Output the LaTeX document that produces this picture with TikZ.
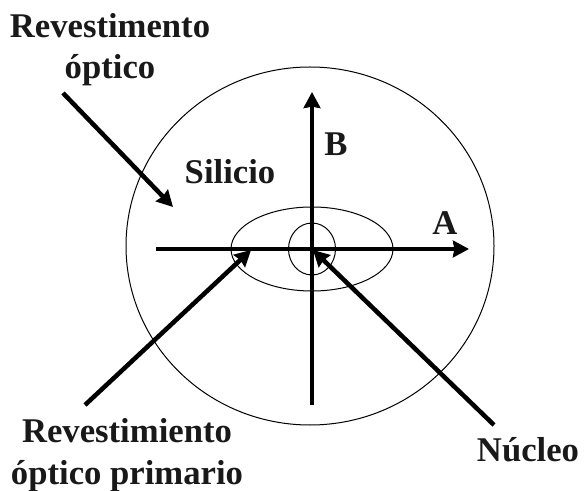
\documentclass[tikz,border=0pt]{standalone}
\usepackage{fontspec}
\setmainfont{Liberation Serif}
\usepackage{xcolor}
\usetikzlibrary{arrows.meta}
\tikzset{
  ring/.style={draw=black, line width=0.75pt},
  fiber arrow/.style={
    -{Stealth[length=12pt, width=12.5pt, inset=1pt]},
    line width=3.4pt,
    color=black
  },
  fiber label/.style={
    font=\fontsize{26}{31}\selectfont\bfseries,
    align=center,
    inner sep=0pt,
    text=black!90
  }
}
\begin{document}
\begin{tikzpicture}[x=0.75pt, y=-0.75pt]
  \useasboundingbox (0,0) rectangle (585,491);

  \draw[ring] (310,246) ellipse [x radius=184, y radius=179];
  \draw[ring] (312,249) ellipse [x radius=81, y radius=42];
  \draw[ring] (312,249) ellipse [x radius=23.5, y radius=26];

  \coordinate (axis west) at (156,249);
  \coordinate (axis east) at (469,249);
  \coordinate (axis south) at (312,405);
  \coordinate (axis north) at (312,92);
  \coordinate (coat tail) at (63,93);
  \coordinate (coat tip) at (173,207);
  \coordinate (primary tail) at (85,405);
  \coordinate (primary tip) at (251,250);
  \coordinate (core tail) at (494,425);
  \coordinate (core tip) at (313,250);

  \draw[fiber arrow] (axis west) -- (axis east);
  \draw[fiber arrow] (axis south) -- (axis north);
  \draw[fiber arrow] (coat tail) -- (coat tip);
  \draw[fiber arrow] (primary tail) -- (primary tip);
  \draw[fiber arrow] (core tail) -- (core tip);

  \node[fiber label] (coat) at (110,50) {Revestimento\\óptico};
  \node[fiber label] (silicon) at (230,172) {Silicio};
  \node[fiber label] (b) at (336,144) {B};
  \node[fiber label] (a) at (445,223) {A};
  \node[fiber label] (primary) at (127,455) {Revestimiento\\óptico primario};
  \node[fiber label] (core) at (528,450) {Núcleo};
\end{tikzpicture}
\end{document}
